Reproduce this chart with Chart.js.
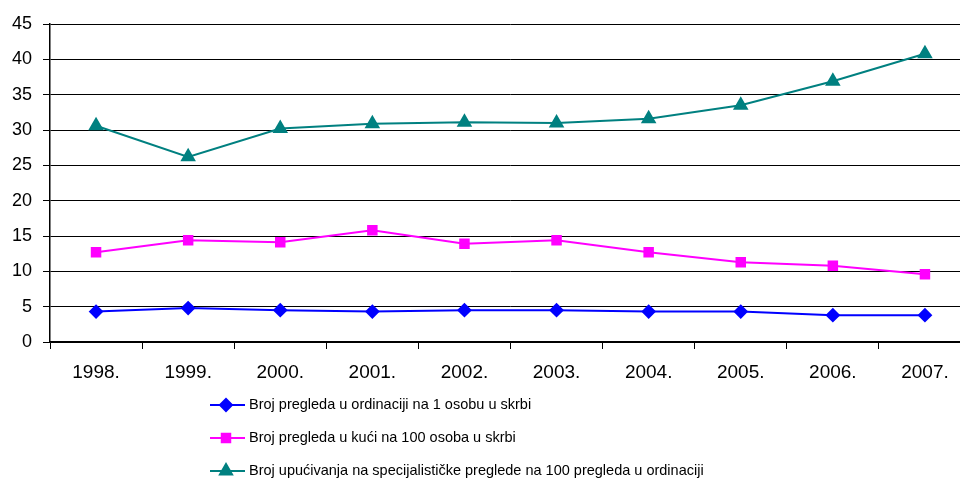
<!DOCTYPE html>
<html>
<head>
<meta charset="utf-8">
<script src="https://cdn.jsdelivr.net/npm/chart.js@4/dist/chart.umd.min.js"></script>
<style>
  html, body { margin: 0; padding: 0; background: #fff; overflow: hidden; }
</style>
</head>
<body>
<canvas id="chart" width="980" height="480"></canvas>
<script>
const years = ["1998.", "1999.", "2000.", "2001.", "2002.", "2003.", "2004.", "2005.", "2006.", "2007."];
const pregledaOrdinacija = [4.3, 4.8, 4.5, 4.3, 4.5, 4.5, 4.3, 4.3, 3.8, 3.8];
const pregledaKuca = [12.7, 14.4, 14.1, 15.8, 13.9, 14.4, 12.7, 11.3, 10.8, 9.6];
const upucivanja = [30.6, 26.2, 30.2, 30.9, 31.1, 31.0, 31.6, 33.5, 36.9, 40.8];
const yTicks = [0, 5, 10, 15, 20, 25, 30, 35, 40, 45];

const fontFamily = "'Liberation Sans', Arial, sans-serif";

// legend drawn by hand: stacked, left aligned under the chart
const stackedLegend = {
  id: "stackedLegend",
  afterDraw(chart) {
    const ctx = chart.ctx;
    ctx.save();
    chart.data.datasets.forEach((ds, i) => {
      const y = 405 + i * 33;
      ctx.strokeStyle = ds.borderColor;
      ctx.lineWidth = 2;
      ctx.beginPath();
      ctx.moveTo(210, y);
      ctx.lineTo(245, y);
      ctx.stroke();
      ctx.fillStyle = ds.backgroundColor;
      ctx.strokeStyle = ds.borderColor;
      Chart.helpers.drawPoint(ctx, {
        pointStyle: ds.pointStyle,
        radius: ds.pointRadius,
        borderWidth: 1
      }, 226, y);
      ctx.fillStyle = "#000";
      ctx.font = "14.5px " + fontFamily;
      ctx.textBaseline = "middle";
      ctx.textAlign = "left";
      ctx.fillText(ds.label, 249, y);
    });
    ctx.restore();
  }
};

new Chart(document.getElementById("chart"), {
  type: "line",
  data: {
    labels: years,
    datasets: [
      {
        label: "Broj pregleda u ordinaciji na 1 osobu u skrbi",
        data: pregledaOrdinacija,
        borderColor: "#0000FF",
        backgroundColor: "#0000FF",
        borderWidth: 2,
        pointStyle: "rectRot",
        pointRadius: 6
      },
      {
        label: "Broj pregleda u kući na 100 osoba u skrbi",
        data: pregledaKuca,
        borderColor: "#FF00FF",
        backgroundColor: "#FF00FF",
        borderWidth: 2,
        pointStyle: "rect",
        pointRadius: 6
      },
      {
        label: "Broj upućivanja na specijalističke preglede na 100 pregleda u ordinaciji",
        data: upucivanja,
        borderColor: "#008080",
        backgroundColor: "#008080",
        borderWidth: 2,
        pointStyle: "triangle",
        pointRadius: 7
      }
    ]
  },
  options: {
    responsive: false,
    animation: false,
    layout: { padding: { top: 24, right: 1, bottom: 98, left: 0 } },
    plugins: {
      legend: { display: false },
      tooltip: { enabled: false }
    },
    scales: {
      x: {
        offset: true,
        grid: { offset: true, drawOnChartArea: false, color: "#000", tickLength: 7 },
        border: { color: "#000", width: 1.5 },
        ticks: { color: "#000", font: { size: 19, family: fontFamily }, padding: 12, maxRotation: 0 },
        afterFit(scale) { scale.height = 40; }
      },
      y: {
        min: 0,
        max: 45,
        afterBuildTicks(scale) { scale.ticks = yTicks.map(v => ({ value: v })); },
        grid: { color: "#000", lineWidth: 1, tickLength: 7 },
        border: { color: "#000", width: 1.5 },
        ticks: { color: "#000", font: { size: 18, family: fontFamily }, padding: 11 },
        afterFit(scale) { scale.width = 50; }
      }
    }
  },
  plugins: [stackedLegend]
});
</script>
</body>
</html>
